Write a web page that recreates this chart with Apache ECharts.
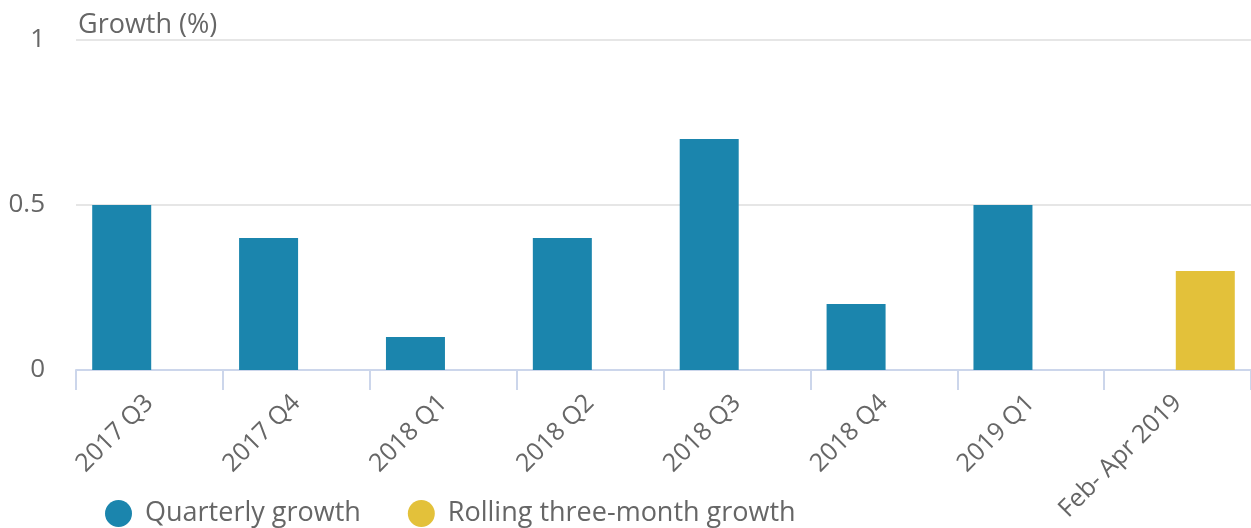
<!DOCTYPE html>
<html>
<head>
<meta charset="utf-8">
<script src="https://cdn.jsdelivr.net/npm/echarts@6/dist/echarts.min.js"></script>
<style>
  html, body { margin: 0; padding: 0; background: #fff; }
  #chart { width: 1251px; height: 528px; }
</style>
</head>
<body>
<div id="chart"></div>
<script>
var categories = ["2017 Q3", "2017 Q4", "2018 Q1", "2018 Q2", "2018 Q3", "2018 Q4", "2019 Q1", "Feb- Apr 2019"];
var quarterly = [0.5, 0.4, 0.1, 0.4, 0.7, 0.2, 0.5, null];
var rolling = [null, null, null, null, null, null, null, 0.3];
var yTicks = [0, 0.5, 1];

var font = "'Open Sans', sans-serif";
var chart = echarts.init(document.getElementById("chart"));

chart.setOption({
  animation: false,
  textStyle: { fontFamily: font },
  grid: { left: 76, right: 0, top: 40, bottom: 158 },
  legend: {
    bottom: -4,
    left: 100,
    icon: "circle",
    itemWidth: 27,
    itemHeight: 27,
    itemGap: 47,
    textStyle: { color: "#666", fontSize: 27, fontFamily: font, padding: [0, 0, 0, 8] },
    data: ["Quarterly growth", "Rolling three-month growth"]
  },
  xAxis: {
    type: "category",
    data: categories,
    axisLine: { lineStyle: { color: "#ccd6eb", width: 2 } },
    axisTick: { show: true, length: 20, lineStyle: { color: "#ccd6eb", width: 2 } },
    axisLabel: { rotate: 45, color: "#666", fontSize: 25, margin: 29, interval: 0 }
  },
  yAxis: {
    type: "value",
    min: yTicks[0],
    max: yTicks[yTicks.length - 1],
    interval: 0.5,
    name: "Growth (%)",
    nameLocation: "end",
    nameGap: 1,
    nameTextStyle: { align: "left", color: "#666", fontSize: 27, padding: [0, 0, 0, 2] },
    axisLine: { show: false },
    axisTick: { show: false },
    axisLabel: { color: "#666", fontSize: 26, margin: 31 },
    splitLine: { lineStyle: { color: "#e6e6e6", width: 2 } }
  },
  series: [
    {
      name: "Quarterly growth",
      type: "bar",
      data: quarterly,
      barWidth: 59,
      barGap: "-6%",
      itemStyle: { color: "#1b85ad" }
    },
    {
      name: "Rolling three-month growth",
      type: "bar",
      data: rolling,
      barWidth: 59,
      barGap: "-6%",
      itemStyle: { color: "#e3c13a" }
    }
  ]
});
</script>
</body>
</html>
